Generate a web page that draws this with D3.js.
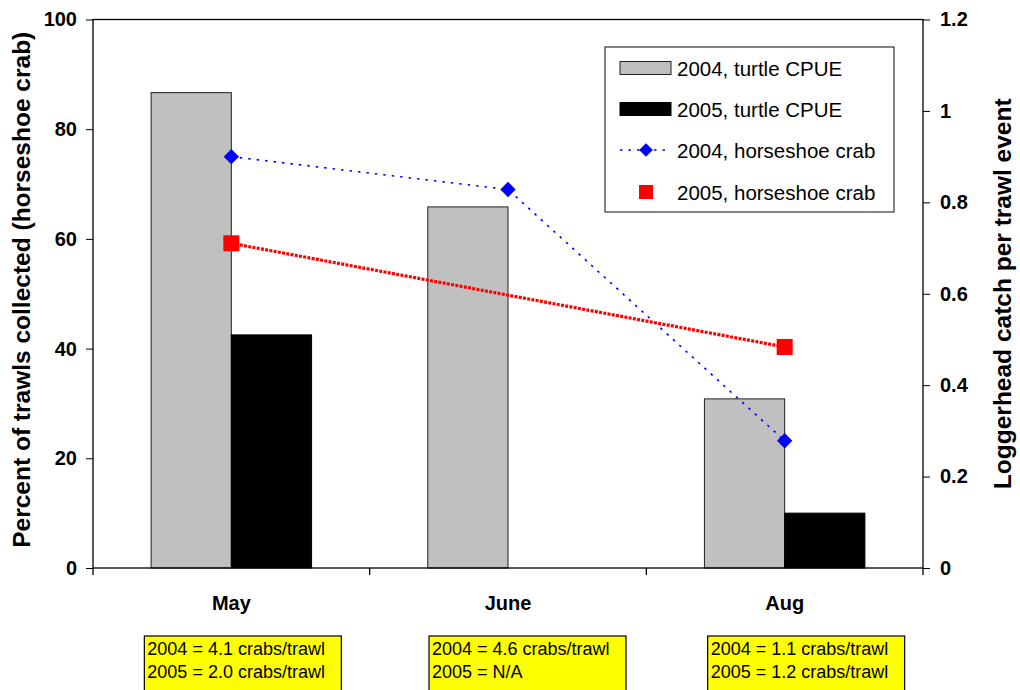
<!DOCTYPE html>
<html>
<head>
<meta charset="utf-8">
<script src="https://cdn.jsdelivr.net/npm/d3@7"></script>
<style>
  html, body { margin: 0; padding: 0; background: #fff; }
  svg { display: block; font-family: "Liberation Sans", Arial, sans-serif; }
</style>
</head>
<body>
<svg id="chart" width="1020" height="690"></svg>
<script>
// Months sampled
const months = ["May", "June", "Aug"];

// Loggerhead turtle CPUE (catch per trawl event), right axis
const turtle2004 = [1.04, 0.79, 0.37];
const turtle2005 = [0.51, null, 0.12];

// Percent of trawls that collected horseshoe crabs, left axis
const crab2004 = [75.0, 69.0, 23.2];
const crab2005 = [59.2, null, 40.3];

// Horseshoe crabs per trawl, shown in the notes under each month
const crabsPerTrawl2004 = ["4.1", "4.6", "1.1"];
const crabsPerTrawl2005 = ["2.0", "N/A", "1.2"];

// Axis ticks
const leftTicks = [0, 20, 40, 60, 80, 100];
const rightTicks = [0, 0.2, 0.4, 0.6, 0.8, 1, 1.2];
const rightTickLabels = ["0", "0.2", "0.4", "0.6", "0.8", "1", "1.2"];

// Legend entries
const legendLabels = ["2004, turtle CPUE", "2005, turtle CPUE", "2004, horseshoe crab", "2005, horseshoe crab"];

const svg = d3.select("#chart");
const plot = { left: 93, right: 923, top: 19.5, bottom: 568 };

const x = d3.scaleBand().domain(months).range([plot.left, plot.right]).paddingInner(0).paddingOuter(0);
const yL = d3.scaleLinear().domain([0, 100]).range([plot.bottom, plot.top]);
const yR = d3.scaleLinear().domain([0, 1.2]).range([plot.bottom, plot.top]);
const barW = x.bandwidth() * 0.29;
const cx = m => x(m) + x.bandwidth() / 2;

// Bars: 2004 to the left of the month centre, 2005 to the right
const barSeries = [
  { vals: turtle2004, fill: "#c0c0c0", stroke: "#222", off: -1 },
  { vals: turtle2005, fill: "#000000", stroke: "#000", off: 0 }
];
barSeries.forEach(s => {
  svg.append("g").selectAll("rect")
    .data(months.map((m, i) => ({ m, v: s.vals[i] })).filter(d => d.v != null))
    .join("rect")
    .attr("x", d => cx(d.m) + s.off * barW)
    .attr("y", d => yR(d.v))
    .attr("width", barW)
    .attr("height", d => yR(0) - yR(d.v))
    .attr("fill", s.fill)
    .attr("stroke", s.stroke)
    .attr("stroke-width", 1);
});

// Plot frame
svg.append("rect")
  .attr("x", plot.left).attr("y", plot.top)
  .attr("width", plot.right - plot.left).attr("height", plot.bottom - plot.top)
  .attr("fill", "none").attr("stroke", "#000").attr("stroke-width", 1.3);

// Left axis
const gL = svg.append("g").attr("transform", `translate(${plot.left},0)`)
  .call(d3.axisLeft(yL).tickValues(leftTicks).tickSize(7).tickPadding(9).tickFormat(d3.format("d")));
gL.select(".domain").remove();
gL.selectAll("text").attr("font-size", 20).attr("font-weight", "bold").attr("font-family", "Liberation Sans, Arial, sans-serif");

// Right axis
const gR = svg.append("g").attr("transform", `translate(${plot.right},0)`)
  .call(d3.axisRight(yR).tickValues(rightTicks).tickSize(7).tickPadding(10).tickFormat((d, i) => rightTickLabels[i]));
gR.select(".domain").remove();
gR.selectAll("text").attr("font-size", 20).attr("font-weight", "bold").attr("font-family", "Liberation Sans, Arial, sans-serif");

// Bottom axis: ticks at category boundaries, labels at centres
const boundaries = months.map(m => x(m)).concat([plot.right]);
svg.append("g").selectAll("line").data(boundaries).join("line")
  .attr("x1", d => d).attr("x2", d => d)
  .attr("y1", plot.bottom).attr("y2", plot.bottom + 7)
  .attr("stroke", "#000").attr("stroke-width", 1.3);
svg.append("g").selectAll("text").data(months).join("text")
  .attr("x", d => cx(d)).attr("y", 610)
  .attr("text-anchor", "middle").attr("font-size", 20).attr("font-weight", "bold")
  .text(d => d);

// Horseshoe crab lines (gaps are skipped, so points either side are joined)
const line = d3.line().x(d => cx(d.m)).y(d => yL(d.v));
const pts = vals => months.map((m, i) => ({ m, v: vals[i] })).filter(d => d.v != null);

svg.append("path").datum(pts(crab2004)).attr("d", line)
  .attr("fill", "none").attr("stroke", "#0000ff").attr("stroke-width", 1.6)
  .attr("stroke-dasharray", "2.5,6");
svg.append("path").datum(pts(crab2005)).attr("d", line)
  .attr("fill", "none").attr("stroke", "#ff0000").attr("stroke-width", 3.2)
  .attr("stroke-dasharray", "3,1.3");

const diamond = d3.symbol().type(d3.symbolDiamond2).size(150);
svg.append("g").selectAll("path").data(pts(crab2004)).join("path")
  .attr("transform", d => `translate(${cx(d.m)},${yL(d.v)})`)
  .attr("d", diamond).attr("fill", "#0000ff");
svg.append("g").selectAll("rect").data(pts(crab2005)).join("rect")
  .attr("x", d => cx(d.m) - 8).attr("y", d => yL(d.v) - 8)
  .attr("width", 16).attr("height", 16).attr("fill", "#ff0000");

// Axis titles
svg.append("text")
  .attr("transform", `translate(30,${(plot.top + plot.bottom) / 2 - 4}) rotate(-90)`)
  .attr("text-anchor", "middle").attr("font-size", 24.5).attr("font-weight", "bold")
  .text("Percent of trawls collected (horseshoe crab)");
svg.append("text")
  .attr("transform", `translate(1011,${(plot.top + plot.bottom) / 2}) rotate(-90)`)
  .attr("text-anchor", "middle").attr("font-size", 24.5).attr("font-weight", "bold")
  .text("Loggerhead catch per trawl event");

// Legend
const lg = svg.append("g");
lg.append("rect").attr("x", 605).attr("y", 47).attr("width", 289).attr("height", 165)
  .attr("fill", "#fff").attr("stroke", "#333").attr("stroke-width", 1.2);
const rowY = [68, 109, 150, 192];
lg.append("rect").attr("x", 620).attr("y", rowY[0] - 6.5).attr("width", 51).attr("height", 13)
  .attr("fill", "#c0c0c0").attr("stroke", "#222");
lg.append("rect").attr("x", 620).attr("y", rowY[1] - 6.5).attr("width", 51).attr("height", 13)
  .attr("fill", "#000").attr("stroke", "#000");
lg.append("line").attr("x1", 620).attr("x2", 670).attr("y1", rowY[2]).attr("y2", rowY[2])
  .attr("stroke", "#0000ff").attr("stroke-width", 1.6).attr("stroke-dasharray", "2.5,6");
lg.append("path").attr("transform", `translate(646,${rowY[2]})`)
  .attr("d", d3.symbol().type(d3.symbolDiamond2).size(120)).attr("fill", "#0000ff");
lg.append("rect").attr("x", 639).attr("y", rowY[3] - 7).attr("width", 14).attr("height", 14)
  .attr("fill", "#ff0000");
lg.selectAll("text.lab").data(legendLabels).join("text").attr("class", "lab")
  .attr("x", 677).attr("y", (d, i) => rowY[i] + 7.5)
  .attr("font-size", 20.5).text(d => d);

// Notes under each month
const noteOffsets = [-87, -79, -77];
const notes = svg.append("g").selectAll("g").data(months).join("g")
  .attr("transform", (d, i) => `translate(${cx(d) + noteOffsets[i]},636)`);
notes.append("rect").attr("width", 197).attr("height", 60)
  .attr("fill", "#ffff00").attr("stroke", "#000").attr("stroke-width", 1.2);
notes.append("text").attr("x", 3).attr("y", 18.5).attr("font-size", 18)
  .text((d, i) => `2004 = ${crabsPerTrawl2004[i]} crabs/trawl`);
notes.append("text").attr("x", 3).attr("y", 41.5).attr("font-size", 18)
  .text((d, i) => crabsPerTrawl2005[i] === "N/A" ? "2005 = N/A" : `2005 = ${crabsPerTrawl2005[i]} crabs/trawl`);
</script>
</body>
</html>
